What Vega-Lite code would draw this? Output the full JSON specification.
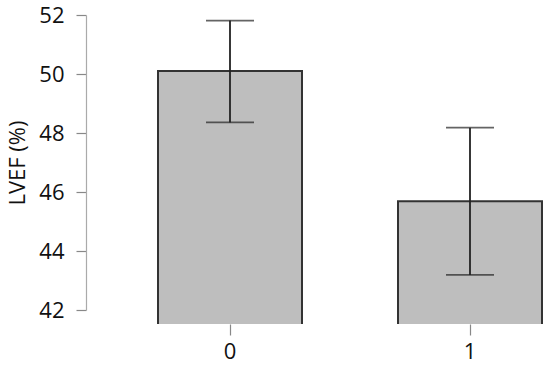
{
  "$schema": "https://vega.github.io/schema/vega-lite/v6.json",
  "autosize": "none",
  "padding": {"left": 86, "top": 5, "right": 0, "bottom": 43},
  "width": 464,
  "height": 319,
  "background": "white",
  "config": {"view": {"stroke": null}, "font": "Open Sans"},
  "data": {"values": [
    {"group": "0", "mean": 50.10, "lo": 48.36, "hi": 51.81},
    {"group": "1", "mean": 45.69, "lo": 43.19, "hi": 48.18}
  ]},
  "encoding": {
    "x": {"field": "group", "type": "nominal", "sort": null,
      "scale": {"range": [72, 456], "paddingInner": 0.4, "paddingOuter": 0},
      "axis": {"title": null, "labelAngle": 0, "domain": false, "tickColor": "#888", "tickSize": 11, "tickWidth": 1.2,
        "labelFontSize": 22, "labelColor": "#111", "labelPadding": 6, "labelFont": "Open Sans"}}
  },
  "layer": [
    {
      "mark": {"type": "bar", "fill": "#bebebe", "stroke": "#333", "strokeWidth": 2, "clip": true},
      "encoding": {
        "y": {"field": "mean", "type": "quantitative",
          "scale": {"domain": [42, 52], "range": [305, 10], "zero": false, "nice": false},
          "axis": {"title": "LVEF (%)", "values": [42, 44, 46, 48, 50, 52], "grid": false,
            "domainColor": "#aaa", "domainWidth": 1.2, "tickColor": "#888", "tickSize": 10, "tickWidth": 1.2,
            "labelFontSize": 22, "labelColor": "#111", "labelPadding": 12, "labelFont": "Open Sans",
            "titleFontSize": 22, "titleFont": "Open Sans", "titleFontWeight": "normal", "titleColor": "#111", "titlePadding": 9}},
        "y2": {"datum": 0}
      }
    },
    {
      "mark": {"type": "rule", "stroke": "#222", "strokeWidth": 1.8},
      "encoding": {"y": {"field": "lo", "type": "quantitative"}, "y2": {"field": "hi"}}
    },
    {
      "mark": {"type": "tick", "orient": "horizontal", "color": "#222", "size": 48, "thickness": 1.8},
      "encoding": {"y": {"field": "lo", "type": "quantitative"}}
    },
    {
      "mark": {"type": "tick", "orient": "horizontal", "color": "#222", "size": 48, "thickness": 1.8},
      "encoding": {"y": {"field": "hi", "type": "quantitative"}}
    }
  ]
}
